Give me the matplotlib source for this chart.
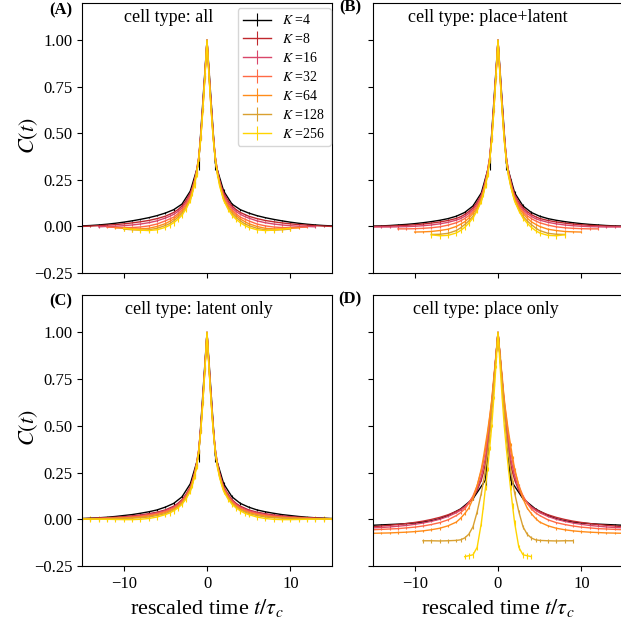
import numpy as np
import matplotlib
matplotlib.use('Agg')
import matplotlib.pyplot as plt

plt.rcParams['font.family'] = 'serif'
plt.rcParams['font.serif'] = ['Liberation Serif', 'DejaVu Serif']
plt.rcParams['mathtext.fontset'] = 'stix'

n = np.nan

# positive half of the lag axis (curves are symmetric around t=0)
T = [0, .25, .5, .75, 1, 1.25, 1.5, 1.75, 2, 2.5, 3, 3.5, 4, 4.5, 5,
     6, 7, 8, 9, 10, 11, 12, 13, 14, 15]

K_VALUES = [4, 8, 16, 32, 64, 128, 256]
COLORS = ['black', '#c0282d', '#d9466a', '#ff6a45', '#ff8c1a', '#d9a030', '#ffd400']

# (A) cell type: all
C_ALL = [
    [1, n, n, n, .34, n, n, n, .19, n, .12, n, .09, n, .072, .058, .047, .038, .03, .023, .017, .012, .008, .005, .003],
    [1, .82, .65, .49, .37, .30, .25, .21, .18, .14, .11, .09, .075, .065, .055, .042, .032, .025, .019, .014, .010, .007, .004, .002, 0],
    [1, .82, .65, .49, .37, .30, .245, .205, .17, .13, .10, .08, .065, .054, .045, .03, .02, .013, .008, .004, .001, 0, -.002, n, n],
    [1, .81, .64, .48, .36, .29, .24, .195, .16, .12, .09, .068, .05, .04, .03, .013, .003, -.003, -.006, -.006, -.005, -.004, n, n, n],
    [1, .81, .63, .48, .36, .29, .235, .19, .15, .11, .08, .058, .04, .027, .015, 0, -.01, -.013, -.013, -.01, -.008, n, n, n, n],
    [1, .80, .63, .47, .36, .285, .23, .185, .145, .10, .07, .048, .03, .015, .005, -.01, -.018, -.02, -.018, -.014, n, n, n, n, n],
    [1, .80, .62, .47, .36, .28, .22, .18, .14, .095, .06, .038, .02, .006, -.005, -.018, -.022, -.02, -.015, -.01, n, n, n, n, n],
]

# (B) cell type: place+latent
C_PLACE_LATENT = [
    [1, n, n, n, .34, n, n, n, .18, n, .11, n, .075, n, .055, .042, .033, .026, .02, .015, .011, .008, .005, .003, .002],
    [1, .82, .65, .49, .37, .30, .25, .205, .17, .13, .10, .08, .064, .052, .043, .032, .024, .018, .013, .009, .006, .004, .002, .001, 0],
    [1, .82, .65, .49, .37, .30, .245, .20, .165, .12, .09, .07, .054, .042, .034, .022, .014, .008, .004, .001, -.001, -.002, -.003, -.003, -.003],
    [1, .81, .64, .48, .36, .29, .235, .19, .155, .11, .08, .058, .042, .03, .02, .007, -.002, -.007, -.01, -.012, -.013, -.013, n, n, n],
    [1, .81, .63, .47, .36, .285, .23, .185, .15, .10, .07, .045, .025, .012, 0, -.015, -.022, -.027, -.029, -.03, n, n, n, n, n],
    [1, .80, .62, .47, .355, .28, .225, .18, .14, .09, .055, .03, .01, -.008, -.022, -.037, -.042, -.043, n, n, n, n, n, n, n],
    [1, .80, .62, .46, .35, .275, .22, .175, .135, .085, .045, .018, -.005, -.022, -.035, -.048, -.05, -.045, n, n, n, n, n, n, n],
]

# (C) cell type: latent only
C_LATENT = [
    [1, n, n, n, .34, n, n, n, .19, n, .12, n, .085, n, .065, .05, .04, .032, .025, .02, .015, .011, .008, .006, .004],
    [1, .82, .65, .49, .37, .30, .25, .21, .175, .135, .105, .085, .07, .06, .05, .038, .03, .023, .018, .014, .011, .008, .006, .004, .003],
    [1, .82, .65, .49, .37, .30, .245, .205, .17, .13, .10, .08, .065, .055, .046, .034, .026, .02, .015, .011, .008, .006, .005, .004, .003],
    [1, .81, .64, .48, .36, .29, .24, .20, .165, .125, .095, .075, .06, .05, .041, .03, .022, .016, .012, .009, .007, .005, .004, .003, .002],
    [1, .81, .63, .48, .36, .29, .235, .195, .16, .12, .09, .07, .055, .045, .036, .025, .017, .012, .009, .007, .005, .004, .003, .002, .002],
    [1, .80, .63, .47, .36, .285, .23, .19, .155, .115, .085, .065, .05, .04, .03, .02, .012, .008, .006, .005, .004, .003, .002, .002, .001],
    [1, .80, .62, .47, .36, .28, .225, .185, .15, .11, .08, .06, .045, .033, .025, .012, .004, 0, -.002, -.002, -.001, 0, .001, .001, .001],
]

# (D) cell type: place only
C_PLACE = [
    [1, n, n, n, n, n, .21, n, n, n, .11, n, n, .055, n, .02, .003, -.008, -.015, -.02, -.023, -.026, -.028, -.03, -.032],
    [1, .87, .74, .61, .50, .39, .30, .25, .21, .155, .115, .088, .068, .053, .042, .024, .01, -.001, -.01, -.017, -.023, -.028, -.032, -.036, -.04],
    [1, .87, .74, .62, .52, .42, .33, .28, .23, .165, .12, .09, .065, .048, .035, .015, 0, -.011, -.02, -.027, -.033, -.037, -.041, -.044, -.046],
    [1, .87, .75, .63, .54, .45, .37, .31, .26, .18, .125, .085, .055, .035, .02, -.003, -.018, -.028, -.036, -.042, -.046, -.05, -.052, -.054, -.056],
    [1, .88, .76, .64, .55, .47, .40, .33, .27, .18, .11, .06, .03, .005, -.015, -.035, -.048, -.056, -.062, -.066, -.069, -.071, -.073, -.074, -.075],
    [1, .86, .72, .58, .45, .35, .27, .20, .14, .04, -.04, -.08, -.10, -.11, -.113, -.115, -.116, -.115, -.115, n, n, n, n, n, n],
    [1, .82, .65, .50, .38, .27, .17, .07, -.02, -.15, -.19, -.195, -.2, n, n, n, n, n, n, n, n, n, n, n, n],
]

# error bar sizes per K on the same lag grid
ERR = [
    [0, 0, 0, 0, .035, .035, .035, .01, .01, .008, .008, .006, .006, .005, .005, .004, .004, .003, .003, .003, .003, .003, .003, .003, .003],
    [0, .002, .002, .002, .003, .003, .003, .003, .003, .003, .003, .003, .003, .003, .003, .003, .003, .003, .003, .003, .003, .003, .003, .003, .003],
    [0, .003, .003, .003, .004, .004, .004, .004, .004, .004, .004, .004, .004, .004, .004, .004, .004, .004, .004, .004, .004, .004, .004, .004, .004],
    [0, .004, .004, .004, .005, .005, .005, .005, .005, .005, .005, .005, .005, .005, .005, .005, .005, .005, .005, .005, .005, .005, .005, .005, .005],
    [0, .005, .005, .005, .006, .006, .006, .007, .007, .007, .007, .007, .007, .007, .007, .007, .007, .007, .007, .007, .007, .007, .007, .007, .007],
    [0, .006, .006, .006, .008, .008, .008, .01, .01, .01, .01, .01, .01, .01, .01, .01, .01, .01, .01, .01, .01, .01, .01, .01, .01],
    [0, .008, .008, .008, .01, .012, .012, .015, .015, .015, .015, .015, .015, .015, .015, .015, .015, .015, .015, .015, .015, .015, .015, .015, .015],
]

PANELS = [C_ALL, C_PLACE_LATENT, C_LATENT, C_PLACE]
TITLES = ['cell type: all', 'cell type: place+latent',
          'cell type: latent only', 'cell type: place only']
LETTERS = ['(A)', '(B)', '(C)', '(D)']

W, H = 621, 620
fig = plt.figure(figsize=(W / 100, H / 100), dpi=100)

# axes boxes in pixels: left, top, right, bottom
boxes = [(82, 3, 332, 273), (373, 3, 623, 273),
         (82, 295, 332, 566), (373, 295, 623, 566)]
letter_pos = [(61, 10), (350, 7), (61, 301), (350, 299)]
title_pos = [(124, 17), (408, 17), (125, 309), (413, 309)]


def mirror(vals):
    v = np.array(vals, dtype=float)
    return np.concatenate([v[::-1][:-1], v])


x_full = np.concatenate([-np.array(T[::-1][:-1]), np.array(T)])

for i, curves in enumerate(PANELS):
    l, t, r, b = boxes[i]
    ax = fig.add_axes([l / W, 1 - b / H, (r - l) / W, (b - t) / H])
    for k, ys, es, c in zip(K_VALUES, curves, ERR, COLORS):
        y = mirror(ys)
        e = mirror(es)
        ok = np.isfinite(y)
        ax.errorbar(x_full[ok], y[ok], yerr=e[ok], color=c, lw=1.0,
                    elinewidth=0.8, capsize=0, label=r'$K$ =%d' % k)
    ax.set_xlim(-15, 15)
    ax.set_ylim(-0.25, 1.2)
    ax.set_xticks([-10, 0, 10])
    ax.set_yticks([-0.25, 0, 0.25, 0.5, 0.75, 1.0])
    ax.tick_params(labelsize=12)
    if i < 2:
        ax.set_xticklabels([])
    else:
        ax.set_xlabel(r'rescaled time $t/\tau_c$', fontsize=16)
    if i % 2 == 1:
        ax.set_yticklabels([])
    else:
        ax.set_ylabel(r'$C(t)$', fontsize=16)
        ax.yaxis.set_label_coords(-0.17, 0.51)
    if i == 0:
        ax.legend(loc='upper right', fontsize=10, borderaxespad=0,
                  bbox_to_anchor=(0.994, 0.982),
                  labelspacing=0.35, borderpad=0.4)
    fig.text(letter_pos[i][0] / W, 1 - letter_pos[i][1] / H, LETTERS[i],
             fontsize=12, fontweight='bold', ha='center', va='center')
    fig.text(title_pos[i][0] / W, 1 - title_pos[i][1] / H, TITLES[i],
             fontsize=13, ha='left', va='center')

fig.savefig('out.png', dpi=100)
